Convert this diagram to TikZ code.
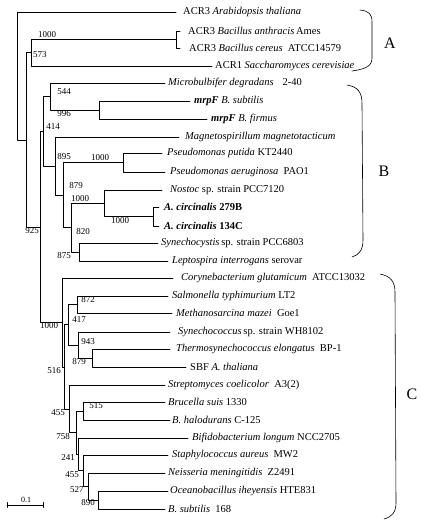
\documentclass[tikz,border=0pt]{standalone}
\usepackage{fontspec}
\setmainfont{Liberation Serif}
\usetikzlibrary{positioning}

\begin{document}
\begin{tikzpicture}[line cap=round,line join=round,x=1pt,y=-1pt,
  br/.style={line width=0.6pt},
  leaf/.style={anchor=west,inner sep=0pt,font=\fontsize{10.5}{12}\selectfont},
  boot/.style={inner sep=0pt,font=\fontsize{9}{10}\selectfont},
  clade/.style={inner sep=0pt,font=\fontsize{16}{18}\selectfont}]
\useasboundingbox (0,0) rectangle (423,523);
% inner nodes
\coordinate (root) at (17,75.9);
\coordinate (n1) at (26,139.8);
\coordinate (a1) at (31,52.75);
\coordinate (ac) at (176,39.5);
\coordinate (n2) at (40,226.8);
\coordinate (b0) at (43,131.25);
\coordinate (b1) at (50,96.5);
\coordinate (mr) at (99,110);
\coordinate (b2) at (55,166);
\coordinate (b3) at (63,195);
\coordinate (ps) at (123,162.5);
\coordinate (b4) at (71,227.6);
\coordinate (no) at (104,203.25);
\coordinate (ci) at (153,216.5);
\coordinate (sl) at (79,252);
\coordinate (c0) at (62,322.4);
\coordinate (c1) at (64,366.8);
\coordinate (c2) at (68,324.75);
\coordinate (sm) at (77,304.5);
\coordinate (sy) at (78,345);
\coordinate (ts) at (92,358);
\coordinate (sc) at (69,408.9);
\coordinate (bb) at (76,432.7);
\coordinate (bh) at (83,411);
\coordinate (bi) at (78,454.4);
\coordinate (st) at (83,470.75);
\coordinate (ne) at (88,486.5);
\coordinate (ob) at (98,500);
% tips
\coordinate (t1) at (176,12);
\coordinate (t2) at (180,31);
\coordinate (t3) at (180,48);
\coordinate (t4) at (212,66);
\coordinate (t5) at (165,83);
\coordinate (t6) at (190,101);
\coordinate (t7) at (207,119);
\coordinate (t8) at (179,137);
\coordinate (t9) at (162,153);
\coordinate (t10) at (165,172);
\coordinate (t11) at (162,190);
\coordinate (t12) at (159,207);
\coordinate (t13) at (159,226);
\coordinate (t14) at (158,243);
\coordinate (t15) at (168,261);
\coordinate (t16) at (173,278);
\coordinate (t17) at (168,296);
\coordinate (t18) at (172,313);
\coordinate (t19) at (170,332);
\coordinate (t20) at (170,349);
\coordinate (t21) at (186,367);
\coordinate (t22) at (165,385);
\coordinate (t23) at (165,402);
\coordinate (t24) at (170,420);
\coordinate (t25) at (188,438);
\coordinate (t26) at (168,455);
\coordinate (t27) at (165,473);
\coordinate (t28) at (168,491);
\coordinate (t29) at (165,509);
% branches
\draw[br] (root) |- (t1) (root) |- (n1);
\draw[br] (n1) |- (a1) (n1) |- (n2);
\draw[br] (a1) |- (ac) (a1) |- (t4);
\draw[br] (ac) |- (t2) (ac) |- (t3);
\draw[br] (n2) |- (b0) (n2) |- (c0);
\draw[br] (b0) |- (b1) (b0) |- (b2);
\draw[br] (b1) |- (t5) (b1) |- (mr);
\draw[br] (mr) |- (t6) (mr) |- (t7);
\draw[br] (b2) |- (t8) (b2) |- (b3);
\draw[br] (b3) |- (ps) (b3) |- (b4);
\draw[br] (ps) |- (t9) (ps) |- (t10);
\draw[br] (b4) |- (no) (b4) |- (sl);
\draw[br] (no) |- (t11) (no) |- (ci);
\draw[br] (ci) |- (t12) (ci) |- (t13);
\draw[br] (sl) |- (t14) (sl) |- (t15);
\draw[br] (c0) |- (t16) (c0) |- (c1);
\draw[br] (c1) |- (c2) (c1) |- (sc);
\draw[br] (c2) |- (sm) (c2) |- (sy);
\draw[br] (sm) |- (t17) (sm) |- (t18);
\draw[br] (sy) |- (t19) (sy) |- (ts);
\draw[br] (ts) |- (t20) (ts) |- (t21);
\draw[br] (sc) |- (t22) (sc) |- (bb);
\draw[br] (bb) |- (bh) (bb) |- (bi);
\draw[br] (bh) |- (t23) (bh) |- (t24);
\draw[br] (bi) |- (t25) (bi) |- (st);
\draw[br] (st) |- (t26) (st) |- (ne);
\draw[br] (ne) |- (t27) (ne) |- (ob);
\draw[br] (ob) |- (t28) (ob) |- (t29);
% leaf names
\node[leaf,right=7pt of t1] (l1) {ACR3 \textit{Arabidopsis thaliana}};
\node[leaf,right=8pt of t2] (l2) {ACR3 \textit{Bacillus anthracis}\,Ames};
\node[leaf,right=9pt of t3] (l3) {ACR3 \textit{Bacillus cereus}\enspace ATCC14579};
\node[leaf,right=3pt of t4] (l4) {ACR1 \textit{Saccharomyces cerevisiae}};
\node[leaf,right=3pt of t5] (l5) {\textit{Microbulbifer degradans}\hspace{9pt}2-40};
\node[leaf,right=4pt of t6] (l6) {\textbf{\textit{mrpF}} \textit{B. subtilis}};
\node[leaf,right=4pt of t7] (l7) {\textbf{\textit{mrpF}} \textit{B. firmus}};
\node[leaf,right=6pt of t8] (l8) {\textit{Magnetospirillum magnetotacticum}};
\node[leaf,right=5pt of t9] (l9) {\textit{Pseudomonas putida} KT2440};
\node[leaf,right=5pt of t10] (l10) {\textit{Pseudomonas aeruginosa}\enspace PAO1};
\node[leaf,right=8pt of t11] (l11) {\textit{Nostoc} sp. strain PCC7120};
\node[leaf,right=5pt of t12] (l12) {\textbf{\textit{A. circinalis}} \textbf{279B}};
\node[leaf,right=5pt of t13] (l13) {\textbf{\textit{A. circinalis}} \textbf{134C}};
\node[leaf,right=3pt of t14] (l14) {\textit{Synechocystis}\,sp. strain PCC6803};
\node[leaf,right=4pt of t15] (l15) {\textit{Leptospira interrogans} serovar};
\node[leaf,right=8pt of t16] (l16) {\textit{Corynebacterium glutamicum}\enspace ATCC13032};
\node[leaf,right=4pt of t17] (l17) {\textit{Salmonella typhimurium} LT2};
\node[leaf,right=4pt of t18] (l18) {\textit{Methanosarcina mazei}\enspace Goe1};
\node[leaf,right=8pt of t19] (l19) {\textit{Synechococcus}\,sp. strain WH8102};
\node[leaf,right=6pt of t20] (l20) {\textit{Thermosynechococcus elongatus}\enspace BP-1};
\node[leaf,right=4pt of t21] (l21) {SBF \textit{A. thaliana}};
\node[leaf,right=3pt of t22] (l22) {\textit{Streptomyces coelicolor}\enspace A3(2)};
\node[leaf,right=3pt of t23] (l23) {\textit{Brucella suis} 1330};
\node[leaf,right=2pt of t24] (l24) {\textit{B. halodurans} C-125};
\node[leaf,right=4pt of t25] (l25) {\textit{Bifidobacterium longum} NCC2705};
\node[leaf,right=4pt of t26] (l26) {\textit{Staphylococcus aureus}\enspace MW2};
\node[leaf,right=3pt of t27] (l27) {\textit{Neisseria meningitidis}\enspace Z2491};
\node[leaf,right=2pt of t28] (l28) {\textit{Oceanobacillus iheyensis} HTE831};
\node[leaf,right=3pt of t29] (l29) {\textit{B. subtilis}\enspace 168};
% bootstrap values
\node[boot] (v1) at (47,35) {1000};
\node[boot] (v2) at (40,55) {573};
\node[boot] (v3) at (64,92) {544};
\node[boot] (v4) at (64,114) {996};
\node[boot] (v5) at (53,127) {414};
\node[boot] (v6) at (64,157) {895};
\node[boot] (v7) at (100,158) {1000};
\node[boot] (v8) at (76,186) {879};
\node[boot] (v9) at (80,199) {1000};
\node[boot] (v10) at (120,221) {1000};
\node[boot] (v11) at (83,232) {820};
\node[boot] (v12) at (32,231) {925};
\node[boot] (v13) at (64,256) {875};
\node[boot] (v14) at (49,326) {1000};
\node[boot] (v15) at (88,300) {872};
\node[boot] (v16) at (79,320) {417};
\node[boot] (v17) at (88,342) {943};
\node[boot] (v18) at (79,362) {879};
\node[boot] (v19) at (54,371) {516};
\node[boot] (v20) at (58,413) {455};
\node[boot] (v21) at (96,406) {515};
\node[boot] (v22) at (63,437) {758};
\node[boot] (v23) at (68,458) {241};
\node[boot] (v24) at (72,475) {455};
\node[boot] (v25) at (77,490) {527};
\node[boot] (v26) at (88,503) {890};
% clade braces
\draw[br] (360,10) .. controls (369,11) and (372,14) .. (372,22) -- (372,58) .. controls (372,66) and (366,69) .. (352,71);
\draw[br] (347,85) .. controls (358,87) and (362,92) .. (362,104) -- (363,240) .. controls (363,250) and (359,255) .. (352,257);
\draw[br] (380,274) .. controls (390,276) and (395,281) .. (395,292) -- (396,503) .. controls (396,512) and (392,517) .. (384,519);
\node[clade] (ga) at (390,43) {A};
\node[clade] (gb) at (384,171) {B};
\node[clade] (gc) at (412,394) {C};
% scale bar
\coordinate (s0) at (7,505);
\coordinate (s1) at (43,505);
\draw[br] (s0) -- (s1);
\draw[br] ([yshift=2.5pt]s0) -- ([yshift=-2.5pt]s0);
\draw[br] ([yshift=2.5pt]s1) -- ([yshift=-2.5pt]s1);
\node[boot,font=\fontsize{8}{9}\selectfont] (sb) at (26,500) {0.1};
\end{tikzpicture}
\end{document}
